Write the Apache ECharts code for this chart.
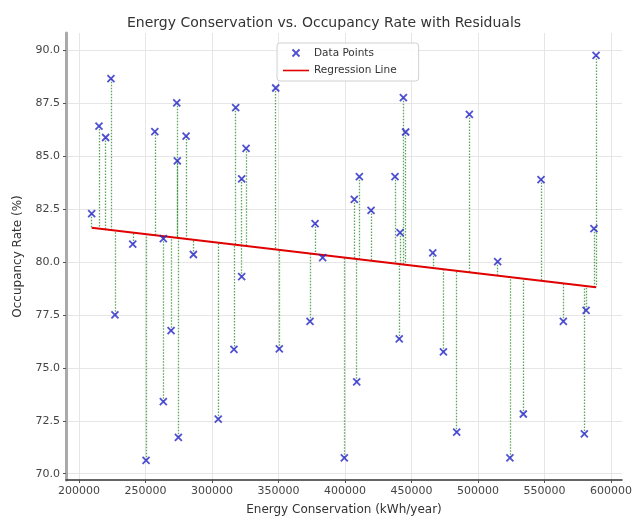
<!DOCTYPE html>
<html>
<head>
<meta charset="utf-8">
<title>Energy Conservation vs. Occupancy Rate</title>
<script src="https://cdn.jsdelivr.net/npm/echarts@6/dist/echarts.min.js"></script>
<style>
    html, body { margin: 0; padding: 0; background: #fff; }
    #main { width: 640px; height: 521px; }
</style>
</head>
<body>
<div id="main"></div>
<script>
var energy = [209500, 215000, 220000, 224000, 227000, 240400, 250400, 257000, 263400, 263400,
    269200, 273500, 273900, 274700, 280500, 286000, 304700, 316500, 317800, 322300,
    322300, 325600, 347900, 350600, 373700, 377500, 383200, 399500, 407000, 408800,
    410800, 419600, 437600, 440800, 441400, 443900, 445600, 466000, 474000, 484000,
    493500, 514800, 524000, 534100, 547400, 564200, 580000, 581300, 587200, 588800];
var occupancy = [82.29, 86.43, 85.89, 88.67, 77.51, 80.85, 70.63, 86.17, 81.11, 73.40,
    76.76, 87.53, 84.79, 71.72, 85.96, 80.36, 72.58, 75.87, 87.30, 83.93,
    79.31, 85.38, 88.23, 75.90, 77.20, 81.82, 80.21, 70.75, 82.96, 74.34,
    84.04, 82.44, 84.04, 76.37, 81.39, 87.77, 86.15, 80.44, 75.76, 71.96,
    86.98, 80.02, 70.75, 72.82, 83.90, 77.20, 71.88, 77.72, 81.58, 89.77];

// regression line end points
var regX = [209500, 588800];
var regY = [81.62, 78.81];

var xTicks = [200000, 250000, 300000, 350000, 400000, 450000, 500000, 550000, 600000];
var yTicks = [70, 72.5, 75, 77.5, 80, 82.5, 85, 87.5, 90];

var font = 'DejaVu Sans';
var slope = (regY[1] - regY[0]) / (regX[1] - regX[0]);

var points = [];
var residuals = [];
for (var i = 0; i < energy.length; i++) {
    points.push([energy[i], occupancy[i]]);
    var fitted = regY[0] + (energy[i] - regX[0]) * slope;
    residuals.push({coords: [[energy[i], occupancy[i]], [energy[i], fitted]]});
}

var crossIcon = 'path://M0,0L10,10M10,0L0,10';

var myChart = echarts.init(document.getElementById('main'));
myChart.setOption({
    animation: false,
    title: {
        text: 'Energy Conservation vs. Occupancy Rate with Residuals',
        left: 122,
        top: 11,
        textStyle: { fontFamily: font, fontSize: 14, fontWeight: 'normal', color: '#333' }
    },
    legend: {
        orient: 'vertical',
        left: 277,
        top: 43,
        padding: [4, 22, 5, 6],
        itemWidth: 26,
        itemHeight: 7,
        itemGap: 6,
        symbolKeepAspect: true,
        borderColor: '#d0d0d0',
        borderWidth: 1,
        borderRadius: 3,
        backgroundColor: 'rgba(255,255,255,0.85)',
        textStyle: { fontFamily: font, fontSize: 10.5, color: '#333' },
        data: [
            { name: 'Data Points', icon: crossIcon,
              itemStyle: { color: 'none', borderColor: '#2424c8', borderWidth: 1.8 } },
            { name: 'Regression Line', icon: 'path://M0,0H26V1.6H0Z',
              itemStyle: { color: '#e00000', borderWidth: 0 } }
        ]
    },
    grid: {
        left: 66,
        right: 18,
        top: 33,
        bottom: 38
    },
    xAxis: {
        type: 'value',
        min: 190200,
        max: 608300,
        name: 'Energy Conservation (kWh/year)',
        nameLocation: 'middle',
        nameGap: 24,
        nameTextStyle: { fontFamily: font, fontSize: 12, color: '#333' },
        axisLine: { show: true, onZero: false, lineStyle: { color: '#333', width: 1.5 } },
        axisTick: { show: true, length: 3, customValues: xTicks, lineStyle: { color: '#555' } },
        axisLabel: {
            customValues: xTicks,
            fontFamily: font, fontSize: 11, color: '#444', margin: 6,
            formatter: function(v) { return String(v); }
        },
        splitLine: { show: true, lineStyle: { color: '#e6e6e6', width: 1 } }
    },
    yAxis: {
        type: 'value',
        min: 69.7,
        max: 90.83,
        name: 'Occupancy Rate (%)',
        nameLocation: 'middle',
        nameGap: 42,
        nameTextStyle: { fontFamily: font, fontSize: 12, color: '#333' },
        axisLine: { show: true, onZero: false, lineStyle: { color: '#aaaaaa', width: 3 } },
        axisTick: { show: true, length: 3, customValues: yTicks, lineStyle: { color: '#555' } },
        axisLabel: {
            customValues: yTicks,
            fontFamily: font, fontSize: 11, color: '#444', margin: 6,
            formatter: function(v) { return v.toFixed(1); }
        },
        splitLine: { show: true, lineStyle: { color: '#e6e6e6', width: 1 } }
    },
    series: [
        {
            name: 'Residuals',
            type: 'lines',
            coordinateSystem: 'cartesian2d',
            silent: true,
            z: 2,
            lineStyle: { color: 'rgba(0,115,0,0.65)', width: 1.3, type: [1.5, 1.5], opacity: 1 },
            data: residuals
        },
        {
            name: 'Regression Line',
            type: 'line',
            symbol: 'none',
            z: 3,
            lineStyle: { color: '#e00000', width: 2 },
            itemStyle: { color: '#e00000' },
            data: [[regX[0], regY[0]], [regX[1], regY[1]]]
        },
        {
            name: 'Data Points',
            type: 'scatter',
            symbol: crossIcon,
            symbolSize: 7,
            z: 4,
            itemStyle: { color: 'none', borderColor: '#2424c8', borderWidth: 1.8 },
            data: points
        }
    ]
});
</script>
</body>
</html>
